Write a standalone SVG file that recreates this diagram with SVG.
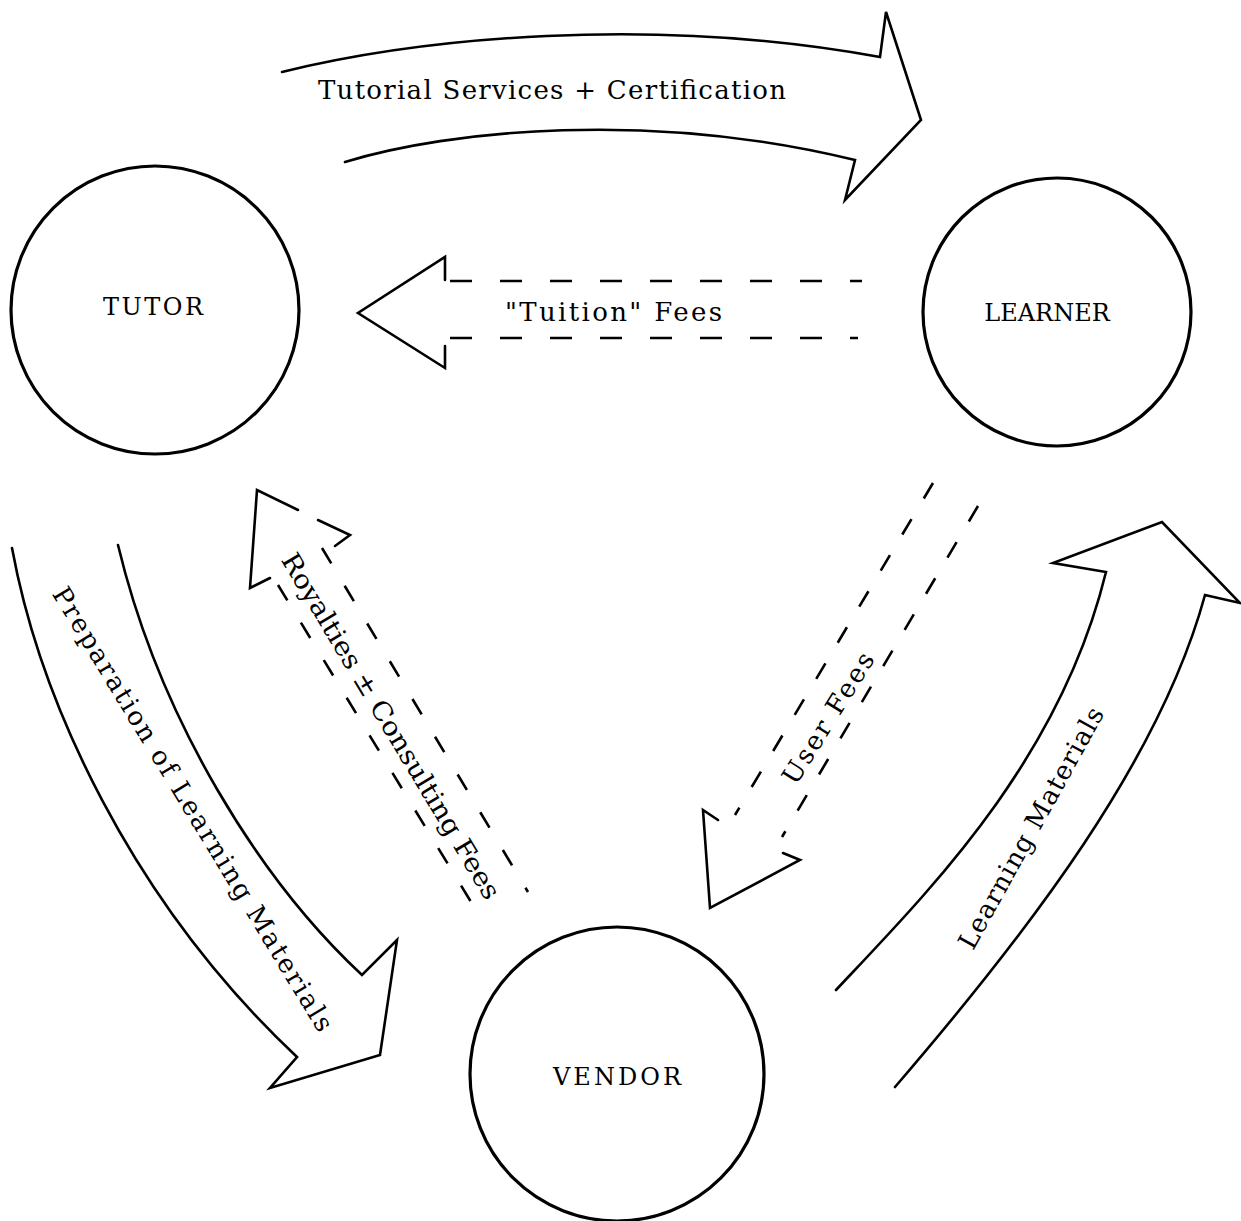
<svg xmlns="http://www.w3.org/2000/svg" width="1241" height="1221" viewBox="0 0 1241 1221">
<style>
.node{fill:none;stroke:#000;stroke-width:3.2}
.lbl{font-family:"DejaVu Serif","Liberation Serif",serif;font-size:26px;fill:#000}
.nl{font-size:24px}
.solid{fill:none;stroke:#000;stroke-width:2.6;stroke-linejoin:miter;stroke-linecap:round}
.dash{fill:none;stroke:#000;stroke-width:2.6;stroke-linecap:butt}
</style>
<rect width="1241" height="1221" fill="#fff"/>
<g id="connectors">
  <g id="tutorial-services">
    <path class="solid" d="M282,72 C420,38 650,15 880,57 L886,12 L921,120 L845,200 L855,160 C650,110 450,130 345,162"/>
    <text class="lbl" x="318" y="99" textLength="468" lengthAdjust="spacing">Tutorial Services + Certification</text>
  </g>
  <g id="tuition-fees">
    <line class="dash" x1="450" y1="281" x2="862" y2="281" stroke-dasharray="22 28"/>
    <line class="dash" x1="450" y1="338" x2="858" y2="338" stroke-dasharray="22 28"/>
    <polyline class="solid" points="445,280 445,257 358,313 445,368 445,346"/>
    <text class="lbl" x="505" y="321" textLength="217" lengthAdjust="spacing">"Tuition" Fees</text>
  </g>
  <g id="royalties">
    <polyline class="solid" points="298,510 257,490 250,588 270,578"/>
    <polyline class="solid" points="318,520 350,535 335,546"/>
    <line class="dash" x1="278" y1="585" x2="482" y2="920" stroke-dasharray="18 26"/>
    <line class="dash" x1="322" y1="548" x2="528" y2="892" stroke-dasharray="18 26"/>
    <text class="lbl" transform="translate(391,726) rotate(59)" x="0" y="9" text-anchor="middle" textLength="399" lengthAdjust="spacingAndGlyphs">Royalties ± Consulting Fees</text>
  </g>
  <g id="user-fees">
    <line class="dash" x1="933" y1="483" x2="735" y2="815" stroke-dasharray="18 24"/>
    <line class="dash" x1="978" y1="506" x2="782" y2="837" stroke-dasharray="18 24"/>
    <polyline class="solid" points="718,820 703,810 710,908 800,860 783,853"/>
    <text class="lbl" transform="translate(828,718) rotate(-58)" x="0" y="9" text-anchor="middle" textLength="150" lengthAdjust="spacing">User Fees</text>
  </g>
  <g id="learning-materials">
    <path class="solid" d="M836,990 C930,890 1060,760 1106,572 L1053,563 L1162,522 L1240,603 L1205,595 C1160,760 1030,930 895,1087"/>
    <text class="lbl" transform="translate(1031,828) rotate(-61)" x="0" y="9" text-anchor="middle" textLength="272" lengthAdjust="spacing">Learning Materials</text>
  </g>
  <g id="preparation">
    <path class="solid" d="M12,548 C40,700 130,900 297,1057 L270,1088 L380,1055 L397,940 L362,975 C260,880 160,720 118,545"/>
    <text class="lbl" transform="translate(193,809) rotate(58.7)" x="0" y="9" text-anchor="middle" textLength="515" lengthAdjust="spacing">Preparation of Learning Materials</text>
  </g>
</g>
<g id="tutor">
  <circle class="node" cx="155" cy="310" r="144"/>
  <text class="lbl nl" x="153" y="315" text-anchor="middle" textLength="100" lengthAdjust="spacing">TUTOR</text>
</g>
<g id="learner">
  <circle class="node" cx="1057" cy="312" r="134"/>
  <text class="lbl nl" x="1047" y="321" text-anchor="middle">LEARNER</text>
</g>
<g id="vendor">
  <circle class="node" cx="617" cy="1074" r="147"/>
  <text class="lbl nl" x="617" y="1085" text-anchor="middle" textLength="128" lengthAdjust="spacing">VENDOR</text>
</g>
</svg>
